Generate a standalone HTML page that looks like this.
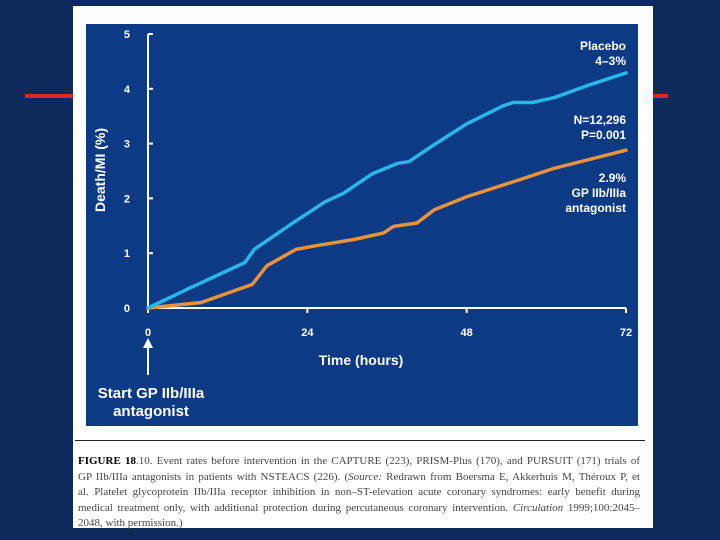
<!DOCTYPE html>
<html><head><meta charset="utf-8"><style>
body{margin:0;width:720px;height:540px;background:#0e2a5c;position:relative;overflow:hidden;font-family:"Liberation Sans",sans-serif}
.abs{position:absolute}
.cl{white-space:nowrap;text-align:justify;text-align-last:justify;height:15.5px;overflow:hidden}
</style></head><body>
<div class="abs" style="left:25px;top:94px;width:643px;height:4px;background:#d8262a"></div>
<div class="abs" style="left:73px;top:6px;width:580px;height:522px;background:#fff"></div>
<div class="abs" style="left:86px;top:24px;width:552px;height:402px;background:#0d3a85"></div>
<svg class="abs" style="left:0;top:0" width="720" height="540">
<g id="axes"></g><g id="lines"></g>
<text x="0" y="0" transform="translate(105,170) rotate(-90)" text-anchor="middle" fill="#fff" font-weight="bold" font-size="14">Death/MI (%)</text>
<text x="361" y="365" text-anchor="middle" fill="#fff" font-weight="bold" font-size="14">Time (hours)</text>
<text x="151" y="398" text-anchor="middle" fill="#fff" font-weight="bold" font-size="15">Start GP IIb/IIIa</text>
<text x="151" y="416" text-anchor="middle" fill="#fff" font-weight="bold" font-size="15">antagonist</text>
<line x1="148" y1="375" x2="148" y2="345" stroke="#fff" stroke-width="2"/>
<polygon points="148,338 143,348 153,348" fill="#fff"/>
<g fill="#fff" font-weight="bold" font-size="12" text-anchor="end">
<text x="626" y="50">Placebo</text>
<text x="626" y="65">4–3%</text>
<text x="626" y="124">N=12,296</text>
<text x="626" y="139">P=0.001</text>
<text x="626" y="182">2.9%</text>
<text x="626" y="197">GP IIb/IIIa</text>
<text x="626" y="212">antagonist</text>
</g>
</svg>
<div class="abs" style="left:75px;top:440px;width:570px;height:1px;background:#222"></div>
<div class="abs" style="left:78px;top:454px;width:562px;font-family:'Liberation Serif',serif;font-size:11px;line-height:15.5px;color:#444">
<div class="cl"><b style="color:#000">FIGURE 18</b>.10. Event rates before intervention in the CAPTURE (223), PRISM-Plus (170), and PURSUIT (171) trials of</div>
<div class="cl">GP IIb/IIIa antagonists in patients with NSTEACS (226). (<i>Source:</i> Redrawn from Boersma E, Akkerhuis M, Théroux P, et</div>
<div class="cl">al. Platelet glycoprotein IIb/IIIa receptor inhibition in non–ST-elevation acute coronary syndromes: early benefit during</div>
<div class="cl">medical treatment only, with additional protection during percutaneous coronary intervention. <i>Circulation</i> 1999;100:2045–</div>
<div style="white-space:nowrap">2048, with permission.)</div>
</div>
<script>
const xTicks=[0,24,48,72];
const yTicks=[0,1,2,3,4,5];
const placeboHours=[0,6.4,14.6,16,21.8,26.7,29.4,33.8,37.6,39.3,42.6,48,53.5,55,57.9,61.2,66.7,72];
const placeboRates=[0,0.37,0.83,1.07,1.55,1.94,2.09,2.45,2.64,2.67,2.94,3.36,3.69,3.75,3.75,3.84,4.08,4.29];
const gpHours=[0,8,15.7,17.9,22.3,25,31,35.5,37,40.5,43.1,48,55.7,61.2,72];
const gpRates=[0,0.1,0.43,0.77,1.07,1.13,1.25,1.37,1.49,1.55,1.79,2.03,2.33,2.55,2.88];
const X=h=>148+h*(626-148)/72, Y=v=>308-v*(308-34)/5;
const NS="http://www.w3.org/2000/svg";
const ax=document.getElementById('axes'), ln=document.getElementById('lines');
function mk(t,a,p){const e=document.createElementNS(NS,t);for(const k in a)e.setAttribute(k,a[k]);p.appendChild(e);return e;}
let e=mk('line',{x1:X(0),y1:Y(5),x2:X(0),y2:Y(0),stroke:'#fff','stroke-width':2},ax);


e=mk('line',{x1:X(0),y1:Y(0),x2:X(72),y2:Y(0),stroke:'#fff','stroke-width':2},ax);


yTicks.forEach(v=>{mk('line',{x1:X(0),y1:Y(v),x2:X(0)+5,y2:Y(v),stroke:'#fff','stroke-width':2},ax);
const t=mk('text',{x:130,y:Y(v)+4,'text-anchor':'end',fill:'#fff','font-size':11,'font-weight':'bold'},ax);t.textContent=v;

});
xTicks.forEach(h=>{mk('line',{x1:X(h),y1:Y(0),x2:X(h),y2:Y(0)+5,stroke:'#fff','stroke-width':2},ax);
const t=mk('text',{x:X(h),y:336,'text-anchor':'middle',fill:'#fff','font-size':11,'font-weight':'bold'},ax);t.textContent=h;

});
function line(hs,vs,c,n){const p=mk('polyline',{points:hs.map((h,i)=>X(h)+','+Y(vs[i])).join(' '),fill:'none',stroke:c,'stroke-width':3.5,'stroke-linejoin':'round','stroke-linecap':'round'},ln);

}
line(gpHours,gpRates,'#e8923a','gp-line');
line(placeboHours,placeboRates,'#29b6e8','placebo-line');
</script>
</body></html>
